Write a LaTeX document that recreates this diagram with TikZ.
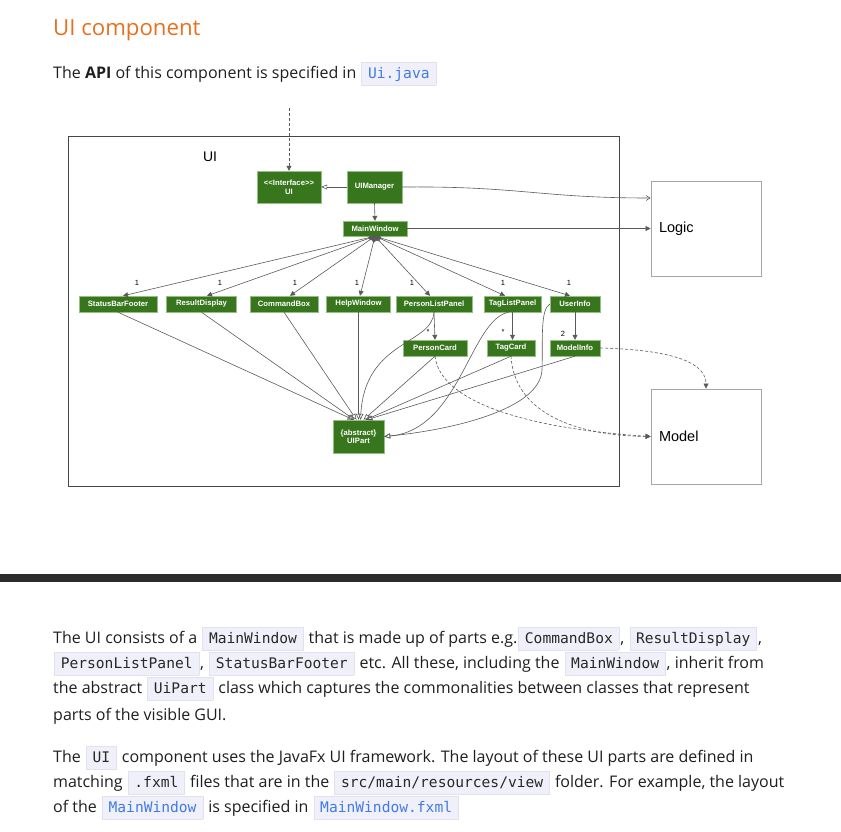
\documentclass[tikz,border=0pt]{standalone}
\usepackage{fontspec}
\setmainfont{Open Sans}
\newfontfamily\diagfont{Liberation Sans}
\newfontfamily\codefont{DejaVu Sans Mono}
\usetikzlibrary{arrows.meta}

\definecolor{uigreen}{RGB}{56,118,29}
\definecolor{uiborder}{RGB}{150,190,130}
\definecolor{edgegray}{RGB}{90,90,90}
\definecolor{boxgray}{RGB}{165,165,165}
\definecolor{framegray}{RGB}{70,70,70}
\definecolor{headorange}{RGB}{231,112,31}
\definecolor{textdark}{RGB}{30,30,30}
\definecolor{codedark}{RGB}{40,40,40}
\definecolor{linkblue}{RGB}{66,122,230}
\definecolor{codebg}{RGB}{240,240,250}
\definecolor{codeborder}{RGB}{226,226,238}
\definecolor{barcolor}{RGB}{45,45,45}

\newcommand{\inlinecode}[2][codedark]{\hspace{1pt}{\setlength{\fboxsep}{0pt}\setlength{\fboxrule}{0.6pt}\fcolorbox{codeborder}{codebg}{\rule[-6.5pt]{0pt}{22pt}\hspace{6pt}\textcolor{#1}{\codefont\fontsize{14.6}{16}\selectfont #2}\hspace{6pt}}}\hspace{1pt}}

\tikzset{
  cls/.style={draw=uiborder, fill=uigreen, text=white, font=\diagfont\bfseries\fontsize{7.7}{8.5}\selectfont, inner sep=0pt, align=center, minimum height=16pt},
  extbox/.style={draw=boxgray, line width=0.8pt, inner xsep=8pt, inner ysep=0pt, text width=94pt, minimum height=95pt, align=left, font=\diagfont\fontsize{14.5}{16}\selectfont},
  link/.style={draw=edgegray, line width=0.6pt},
  owns/.style={link, {Diamond[length=7pt,width=5pt]}-{Triangle[length=5pt,width=5pt]}},
  inherit/.style={link, -{Triangle[open,length=6pt,width=5pt]}},
  uses/.style={link, -{Triangle[length=5pt,width=5pt]}},
  dep/.style={link, dash pattern=on 3pt off 2pt, -{Triangle[length=5pt,width=5pt]}},
  mult/.style={font=\diagfont\fontsize{7.5}{8}\selectfont, text=black, inner sep=0pt},
  bodytext/.style={anchor=base west, inner sep=0pt, text=textdark, font=\fontsize{16}{20}\selectfont}
}

\begin{document}
\begin{tikzpicture}[x=1pt,y=-1pt]
  \useasboundingbox (0,0) rectangle (841,831);

  \node[anchor=base west, inner sep=0pt, text=headorange, font=\fontsize{22.2}{26}\selectfont] (title) at (53,35) {UI component};
  \node[bodytext] (apiline) at (53,78) {The \textbf{API} of this component is specified in \inlinecode[linkblue]{Ui.java}};

  \draw[framegray, line width=0.7pt] (68,136) rectangle (619,486);
  \node[font=\diagfont\fontsize{14}{16}\selectfont, inner sep=0pt] (uilabel) at (210,157) {UI};

  \node[cls, minimum width=64pt, minimum height=32pt] (iface) at (289,187) {<<Interface>>\\UI};
  \node[cls, minimum width=55pt, minimum height=32pt] (mgr) at (374.5,187) {UIManager};
  \node[cls, minimum width=64pt, minimum height=15pt] (mwin) at (375,228.5) {MainWindow};

  \node[cls, minimum width=78pt] (status) at (118,304) {StatusBarFooter};
  \node[cls, minimum width=70pt] (result) at (201.5,304) {ResultDisplay};
  \node[cls, minimum width=68pt] (cmdbox) at (284,304) {CommandBox};
  \node[cls, minimum width=64pt] (help) at (358.5,304) {HelpWindow};
  \node[cls, minimum width=76pt] (plp) at (434,304) {PersonListPanel};
  \node[cls, minimum width=57pt] (tlp) at (512.5,304) {TagListPanel};
  \node[cls, minimum width=50pt] (uinfo) at (575,304) {UserInfo};

  \node[cls, minimum width=64pt] (pcard) at (435,348) {PersonCard};
  \node[cls, minimum width=48pt] (tcard) at (511,348) {TagCard};
  \node[cls, minimum width=50pt] (minfo) at (575,348) {ModelInfo};
  \node[cls, minimum width=51pt, minimum height=33pt] (uipart) at (358.5,436.5) {\{abstract\}\\UIPart};

  \node[extbox] (logic) at (706,228.5) {Logic};
  \node[extbox] (model) at (706,436.5) {Model};

  \coordinate (apitop) at (289,108);
  \draw[dep] (apitop) -- (iface.north);
  \draw[inherit] (mgr.west) -- (iface.east);
  \draw[uses] (mgr.south) -- (mwin.north);
  \draw[link, -{Straight Barb[length=4pt,width=5pt]}] (mgr.east) .. controls (520,186) and (540,198) .. ([yshift=30.5pt]logic.west);
  \draw[uses] (mwin.east) -- (logic.west);

  \draw[owns] (mwin.south) -- ([xshift=5pt]status.north);
  \draw[owns] (mwin.south) -- ([xshift=5.5pt]result.north);
  \draw[owns] (mwin.south) -- ([xshift=6pt]cmdbox.north);
  \draw[owns] (mwin.south) -- ([xshift=1.5pt]help.north);
  \draw[owns] (mwin.south) -- ([xshift=-4pt]plp.north);
  \draw[owns] (mwin.south) -- ([xshift=-7.5pt]tlp.north);
  \draw[owns] (mwin.south) -- ([xshift=-5pt]uinfo.north);
  \node[mult] (m1) at (137,283) {1};
  \node[mult] (m2) at (220,283) {1};
  \node[mult] (m3) at (295,283) {1};
  \node[mult] (m4) at (357,283) {1};
  \node[mult] (m5) at (412,283) {1};
  \node[mult] (m6) at (503,283) {1};
  \node[mult] (m7) at (569,283) {1};

  \draw[uses] (plp.south) -- (pcard.north);
  \draw[uses] (tlp.south) -- ([xshift=1.5pt]tcard.north);
  \draw[uses] (uinfo.south) -- (minfo.north);
  \node[mult] (m8) at (428,332) {*};
  \node[mult] (m9) at (503,332) {*};
  \node[mult] (m10) at (563,334) {2};

  \draw[inherit] (status.south) -- ([xshift=-5pt]uipart.north);
  \draw[inherit] (result.south) -- ([xshift=-4pt]uipart.north);
  \draw[inherit] (cmdbox.south) -- ([xshift=-2pt]uipart.north);
  \draw[inherit] (help.south) -- (uipart.north);
  \draw[inherit] (plp.south) .. controls (432,345) and (365,340) .. ([xshift=2pt]uipart.north);
  \draw[inherit] (pcard.south) -- ([xshift=5pt]uipart.north);
  \draw[inherit] (tcard.south) -- ([xshift=7pt]uipart.north);
  \draw[inherit] (minfo.south) -- ([xshift=8pt]uipart.north);
  \draw[inherit] ([xshift=-4pt]tlp.south) .. controls (470,320) and (460,430) .. (uipart.east);
  \draw[inherit] (uinfo.west) .. controls (540,310) and (543,340) .. (542,370) .. controls (540,410) and (450,430) .. (uipart.east);

  \draw[dep] (pcard.south) .. controls (440,400) and (520,428) .. (model.west);
  \draw[dep] (tcard.south) .. controls (515,420) and (590,436) .. (model.west);
  \draw[dep] (minfo.east) .. controls (680,350) and (706,365) .. (model.north);

  \fill[barcolor] (0,574) rectangle (841,582);

  \node[bodytext] (p1a) at (53,643) {The UI consists of a \inlinecode{MainWindow} that is made up of parts e.g.\inlinecode{CommandBox}, \inlinecode{ResultDisplay},};
  \node[bodytext] (p1b) at (53,668) {\inlinecode{PersonListPanel}, \inlinecode{StatusBarFooter} etc. All these, including the \inlinecode{MainWindow}, inherit from};
  \node[bodytext] (p1c) at (53,693) {the abstract \inlinecode{UiPart} class which captures the commonalities between classes that represent};
  \node[bodytext] (p1d) at (53,720) {parts of the visible GUI.};
  \node[bodytext] (p2a) at (53,762) {The \inlinecode{UI} component uses the JavaFx UI framework. The layout of these UI parts are defined in};
  \node[bodytext] (p2b) at (53,787) {matching \inlinecode{.fxml} files that are in the \inlinecode{src/main/resources/view} folder. For example, the layout};
  \node[bodytext] (p2c) at (53,812) {of the \inlinecode[linkblue]{MainWindow} is specified in \inlinecode[linkblue]{MainWindow.fxml}};
\end{tikzpicture}
\end{document}
